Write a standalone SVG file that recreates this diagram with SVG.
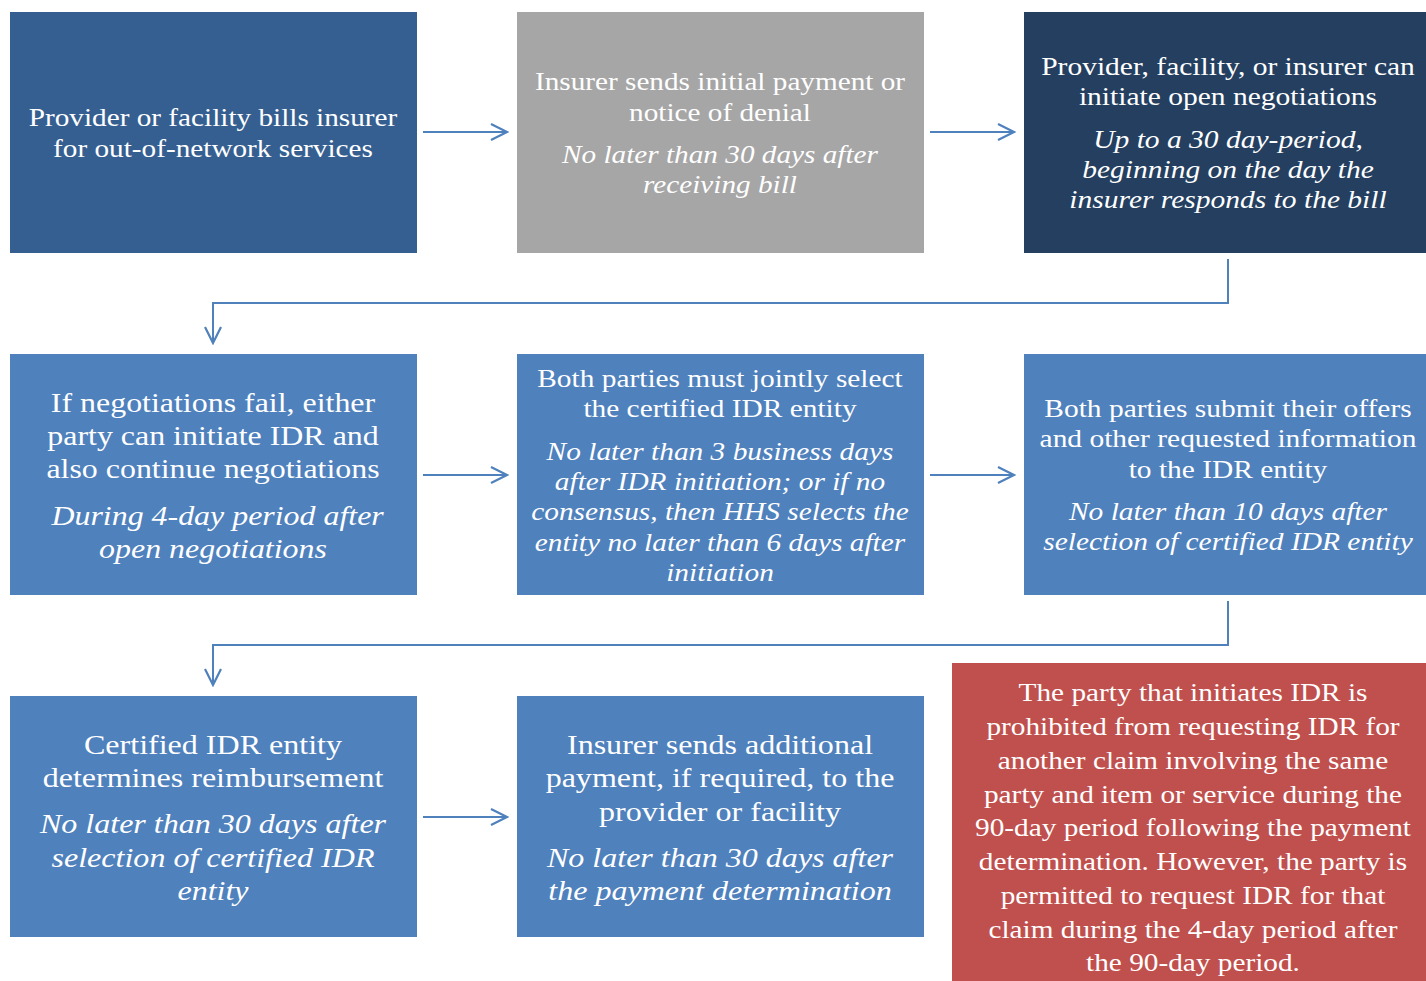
<svg xmlns="http://www.w3.org/2000/svg" width="1426" height="981" viewBox="0 0 1426 981">
  <defs>
    <marker id="chev" viewBox="0 0 20 20" refX="18" refY="10" markerWidth="20" markerHeight="20" markerUnits="userSpaceOnUse" orient="auto">
      <path d="M2,2 L18,10 L2,18" fill="none" stroke="#4F81BD" stroke-width="2.2"/>
    </marker>
  </defs>
  <style>
    .box-mid { fill: #365F91; }
    .box-grey { fill: #A6A6A6; }
    .box-dark { fill: #243F60; }
    .box-blue { fill: #4F81BD; }
    .box-red { fill: #C0504D; }
    text { font-family: "Liberation Serif", "Times New Roman", serif; fill: #ffffff; text-anchor: middle; }
    .t26 { font-size: 26px; }
    .t28 { font-size: 28px; }
    .it { font-style: italic; }
    .conn { fill: none; stroke: #4F81BD; stroke-width: 2; marker-end: url(#chev); }
  </style>
  <rect width="1426" height="981" fill="#ffffff"/>

  <g id="connectors">
    <path class="conn" d="M423,132 H507"/>
    <path class="conn" d="M930,132 H1014"/>
    <path class="conn" d="M1228,259 V303 H213 V343"/>
    <path class="conn" d="M423,475 H507"/>
    <path class="conn" d="M930,475 H1014"/>
    <path class="conn" d="M1228,601 V645 H213 V685"/>
    <path class="conn" d="M423,817 H507"/>
  </g>

  <g id="node-bill">
    <rect class="box-mid" x="10" y="12" width="407" height="241"/>
    <g transform="translate(213 0) scale(1.125 1)">
      <text class="t26" x="0" y="126">Provider or facility bills insurer</text>
      <text class="t26" x="0" y="157">for out-of-network services</text>
    </g>
  </g>

  <g id="node-initial-payment">
    <rect class="box-grey" x="517" y="12" width="407" height="241"/>
    <g transform="translate(720 0) scale(1.125 1)">
      <text class="t26" x="0" y="90">Insurer sends initial payment or</text>
      <text class="t26" x="0" y="121">notice of denial</text>
      <text class="t26 it" x="0" y="163">No later than 30 days after</text>
      <text class="t26 it" x="0" y="193">receiving bill</text>
    </g>
  </g>

  <g id="node-open-negotiations">
    <rect class="box-dark" x="1024" y="12" width="402" height="241"/>
    <g transform="translate(1228 0) scale(1.135 1)">
      <text class="t26" x="0" y="75">Provider, facility, or insurer can</text>
      <text class="t26" x="0" y="105">initiate open negotiations</text>
      <text class="t26 it" x="0" y="148">Up to a 30 day-period,</text>
      <text class="t26 it" x="0" y="178">beginning on the day the</text>
      <text class="t26 it" x="0" y="208">insurer responds to the bill</text>
    </g>
  </g>

  <g id="node-initiate-idr">
    <rect class="box-blue" x="10" y="354" width="407" height="241"/>
    <g transform="translate(213 0) scale(1.14 1)">
      <text class="t28" x="0" y="412">If negotiations fail, either</text>
      <text class="t28" x="0" y="445">party can initiate IDR and</text>
      <text class="t28" x="0" y="478">also continue negotiations</text>
      <text class="t28 it" x="4" y="525">During 4-day period after</text>
      <text class="t28 it" x="0" y="558">open negotiations</text>
    </g>
  </g>

  <g id="node-select-entity">
    <rect class="box-blue" x="517" y="354" width="407" height="241"/>
    <g transform="translate(720 0) scale(1.13 1)">
      <text class="t26" x="0" y="387">Both parties must jointly select</text>
      <text class="t26" x="0" y="417">the certified IDR entity</text>
      <text class="t26 it" x="0" y="460">No later than 3 business days</text>
      <text class="t26 it" x="0" y="490">after IDR initiation; or if no</text>
      <text class="t26 it" x="0" y="520">consensus, then HHS selects the</text>
      <text class="t26 it" x="0" y="551">entity no later than 6 days after</text>
      <text class="t26 it" x="0" y="581">initiation</text>
    </g>
  </g>

  <g id="node-submit-offers">
    <rect class="box-blue" x="1024" y="354" width="402" height="241"/>
    <g transform="translate(1228 0) scale(1.133 1)">
      <text class="t26" x="0" y="417">Both parties submit their offers</text>
      <text class="t26" x="0" y="447">and other requested information</text>
      <text class="t26" x="0" y="478">to the IDR entity</text>
      <text class="t26 it" x="0" y="520">No later than 10 days after</text>
      <text class="t26 it" x="0" y="550">selection of certified IDR entity</text>
    </g>
  </g>

  <g id="node-determination">
    <rect class="box-blue" x="10" y="696" width="407" height="241"/>
    <g transform="translate(213 0) scale(1.145 1)">
      <text class="t28" x="0" y="754">Certified IDR entity</text>
      <text class="t28" x="0" y="787">determines reimbursement</text>
      <text class="t28 it" x="0" y="833">No later than 30 days after</text>
      <text class="t28 it" x="0" y="867">selection of certified IDR</text>
      <text class="t28 it" x="0" y="900">entity</text>
    </g>
  </g>

  <g id="node-additional-payment">
    <rect class="box-blue" x="517" y="696" width="407" height="241"/>
    <g transform="translate(720 0) scale(1.145 1)">
      <text class="t28" x="0" y="754">Insurer sends additional</text>
      <text class="t28" x="0" y="787">payment, if required, to the</text>
      <text class="t28" x="0" y="821">provider or facility</text>
      <text class="t28 it" x="0" y="867">No later than 30 days after</text>
      <text class="t28 it" x="0" y="900">the payment determination</text>
    </g>
  </g>

  <g id="node-restriction-note">
    <rect class="box-red" x="952" y="663" width="474" height="318"/>
    <g transform="translate(1193 0) scale(1.127 1)">
      <text class="t26" x="0" y="701">The party that initiates IDR is</text>
      <text class="t26" x="0" y="735">prohibited from requesting IDR for</text>
      <text class="t26" x="0" y="769">another claim involving the same</text>
      <text class="t26" x="0" y="803">party and item or service during the</text>
      <text class="t26" x="0" y="836">90-day period following the payment</text>
      <text class="t26" x="0" y="870">determination. However, the party is</text>
      <text class="t26" x="0" y="904">permitted to request IDR for that</text>
      <text class="t26" x="0" y="938">claim during the 4-day period after</text>
      <text class="t26" x="0" y="971">the 90-day period.</text>
    </g>
  </g>
</svg>
